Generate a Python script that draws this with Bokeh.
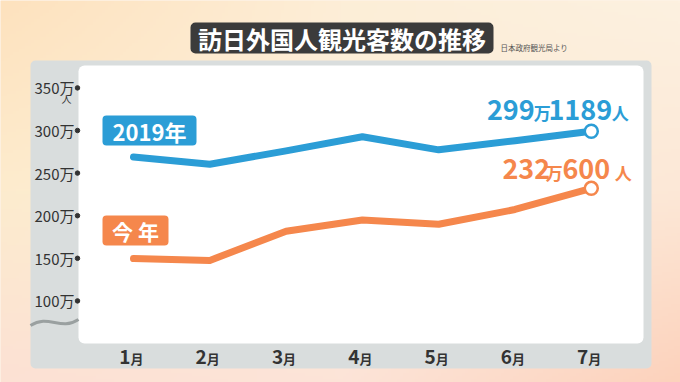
import numpy as np
from bokeh.plotting import figure
from bokeh.models import Range1d, BoxAnnotation
from bokeh.core.properties import value
from bokeh.embed import file_html
from bokeh.resources import INLINE

# ---------------- data ----------------
month_idx = [1, 2, 3, 4, 5, 6, 7]
month_nums = ["1", "2", "3", "4", "5", "6", "7"]
month_suffix = "月"
visitors_2019 = [268.9, 260.4, 276.1, 292.7, 277.3, 288.0, 299.1]
visitors_now = [149.7, 147.5, 181.8, 194.9, 189.9, 207.3, 232.1]
y_ticks = [100, 150, 200, 250, 300, 350]
y_tick_labels = ["100万", "150万", "200万", "250万", "300万", "350万"]
y_unit = "人"
title = "訪日外国人観光客数の推移"
source_note = "日本政府観光局より"
label_2019 = "2019年"
label_now = "今 年"
end_2019 = ["299", "万", "1189", "人"]
end_now = ["232", "万", "600", "人"]

# ---------------- layout helpers (page px -> data) ----------------
W, H = 680, 382
PAGE = 0
PX_MONTH = 76.3
X_M1 = 133.0
PX_PER_UNIT = 42.6 / 50.0
Y_300 = 130.0


def mx(X):
    return 1 + (X - X_M1) / PX_MONTH


def vy(Y):
    return 300 - (Y - Y_300) / PX_PER_UNIT


def up(px):
    return px / PX_PER_UNIT


FONT = value("Noto Sans CJK JP")
BLUE = "#2b9dd6"
ORANGE = "#f5874c"
TXT = "#333333"

p = figure(width=W, height=H,
           x_range=Range1d(mx(PAGE), mx(PAGE + W)),
           y_range=Range1d(vy(PAGE + H), vy(PAGE)),
           output_backend="svg", toolbar_location=None, min_border=0,
           x_axis_location=None, y_axis_location=None)
p.grid.visible = False
p.outline_line_color = None
p.border_fill_color = "#fde8d0"
p.background_fill_color = "#fde8d0"

# ---------------- gradient background ----------------
gh, gw = 128, 228
grid_cols = np.array([
    [[253, 226, 190], [253, 238, 215], [253, 241, 224]],   # top
    [[253, 236, 206], [253, 238, 218], [252, 232, 215]],   # middle
    [[252, 225, 212], [253, 228, 216], [252, 210, 188]],   # bottom
], dtype=float)
u = np.linspace(0, 2, gw)
t = np.linspace(0, 2, gh)
img = np.zeros((gh, gw, 4), dtype=np.uint8)
for c in range(3):
    rows = np.array([np.interp(u, [0, 1, 2], grid_cols[r, :, c]) for r in range(3)])
    full = np.array([np.interp(t, [0, 1, 2], rows[:, j]) for j in range(gw)]).T
    img[:, :, c] = np.flipud(full).astype(np.uint8)
img[:, :, 3] = 255
img32 = img.view(np.uint32).reshape(gh, gw)
p.image_rgba(image=[img32], x=mx(PAGE), y=vy(PAGE + H),
             dw=mx(PAGE + W) - mx(PAGE), dh=vy(PAGE) - vy(PAGE + H), level="image")

# ---------------- panels ----------------
p.add_layout(BoxAnnotation(left=mx(30), right=mx(651), top=vy(60), bottom=vy(368),
                           fill_color="#d9dddd", fill_alpha=1, line_color=None,
                           border_radius=5, level="underlay"))
p.add_layout(BoxAnnotation(left=mx(78), right=mx(643), top=vy(65), bottom=vy(343),
                           fill_color="#ffffff", fill_alpha=1, line_color=None,
                           border_radius=6, level="underlay"))
# title box
p.add_layout(BoxAnnotation(left=mx(190), right=mx(493), top=vy(22), bottom=vy(53),
                           fill_color="#3b3b3b", fill_alpha=1, line_color=None,
                           border_radius=5, level="underlay"))
# series label boxes
p.add_layout(BoxAnnotation(left=mx(102), right=mx(196), top=vy(115), bottom=vy(145),
                           fill_color=BLUE, fill_alpha=1, line_color=None,
                           border_radius=4, level="underlay"))
p.add_layout(BoxAnnotation(left=mx(102), right=mx(168), top=vy(215), bottom=vy(245),
                           fill_color=ORANGE, fill_alpha=1, line_color=None,
                           border_radius=4, level="underlay"))

# axis break wave
p.bezier(x0=[mx(30)], y0=[vy(325)], x1=[mx(78)], y1=[vy(319)],
         cx0=[mx(48)], cy0=[vy(313)], cx1=[mx(60)], cy1=[vy(331)],
         line_color="#9aa0a0", line_width=3)

# ---------------- titles ----------------
p.text(x=[mx(341.5)], y=[vy(38)], text=[title], text_align="center", text_baseline="middle",
       text_font=FONT, text_font_size="24px", text_font_style="bold", text_color="white")
p.text(x=[mx(500)], y=[vy(47)], text=[source_note], text_align="left", text_baseline="middle",
       text_font=FONT, text_font_size="7.5px", text_color="#555555")

# ---------------- y tick labels ----------------
p.text(x=[mx(74)] * len(y_ticks), y=y_ticks, text=y_tick_labels, text_align="right",
       text_baseline="middle", text_font=FONT, text_font_size="15px", text_color=TXT)
p.scatter(x=[mx(77)] * len(y_ticks), y=y_ticks, size=4.5, color=TXT, marker="circle")
p.text(x=[mx(66)], y=[y_ticks[-1] - up(11)], text=[y_unit], text_align="center",
       text_baseline="middle", text_font=FONT, text_font_size="10px", text_color=TXT)

# ---------------- x tick labels ----------------
p.text(x=month_idx, y=[vy(356.5)] * 7, text=month_nums, x_offset=-3, text_align="right",
       text_baseline="middle", text_font=FONT, text_font_size="19px",
       text_font_style="bold", text_color=TXT)
p.text(x=month_idx, y=[vy(357.5)] * 7, text=[month_suffix] * 7, x_offset=-3, text_align="left",
       text_baseline="middle", text_font=FONT, text_font_size="13px",
       text_font_style="bold", text_color=TXT)

# ---------------- lines ----------------
for vals, col in [(visitors_2019, BLUE), (visitors_now, ORANGE)]:
    p.line(month_idx, vals, line_width=7, line_color=col, line_cap="round", line_join="round")
    p.scatter([month_idx[-1]], [vals[-1]], size=13, fill_color="white",
              line_color=col, line_width=2.5, marker="circle")

# ---------------- series labels ----------------
p.text(x=[mx(149)], y=[vy(130)], text=[label_2019], text_align="center", text_baseline="middle",
       text_font=FONT, text_font_size="22px", text_font_style="bold", text_color="white")
p.text(x=[mx(135)], y=[vy(230)], text=[label_now], text_align="center", text_baseline="middle",
       text_font=FONT, text_font_size="21px", text_font_style="bold", text_color="white")


# ---------------- end labels (mixed sizes), piece centres offset from the last point ----------------
def end_label(pieces, x_centres, x, y, col, digit_up, kanji_up):
    for s, off in zip(pieces, x_centres):
        is_num = s[0].isdigit()
        size = 27 if is_num else 17
        yy = y + up(digit_up if is_num else kanji_up)
        p.text(x=[x], y=[yy], text=[s], x_offset=off, text_align="center",
               text_baseline="middle", text_font=FONT, text_font_size=f"{size}px",
               text_font_style="bold", text_color=col)


end_label(end_2019, [-80.5, -49, -11, 29], month_idx[-1], visitors_2019[-1], BLUE, 21, 18.5)
end_label(end_now, [-65, -37, -5, 32], month_idx[-1], visitors_now[-1], ORANGE, 19, 16)

open("out.html", "w").write(file_html(p, INLINE))
